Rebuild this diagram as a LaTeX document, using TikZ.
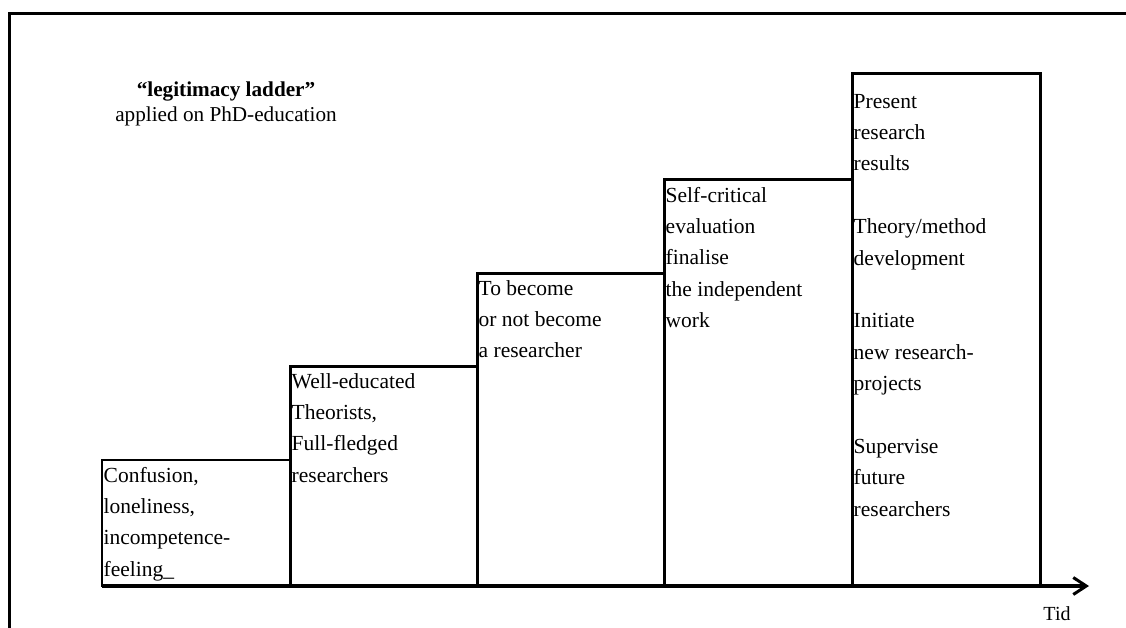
\documentclass[tikz,border=0pt]{standalone}
\usepackage{fontspec}
\setmainfont{Liberation Serif}
\usetikzlibrary{arrows.meta}
\begin{document}
\begin{tikzpicture}[x=1pt,y=-1pt,
  txt/.style={anchor=north west, inner sep=0pt, align=left, font=\fontsize{21.5}{31.4}\selectfont},
  stepbox/.style={draw=black, line width=3pt, inner sep=0pt, outer sep=0pt, anchor=south west, rectangle},
  thinbox/.style={stepbox, line width=1.6pt},
  lbl/.style={inner sep=0pt, anchor=base, font=\fontsize{21.2}{25}\selectfont},
]
\useasboundingbox (0,0) rectangle (1126,628);
% outer frame (cropped on right and bottom)
\coordinate (f0) at (9,628);
\coordinate (f1) at (9,14);
\coordinate (f2) at (1126,14);
\draw[line width=3pt] (f0) -- (f1) -- (f2);

% steps
\node[thinbox, minimum width=188pt, minimum height=126pt] (b1) at (102,586) {};
\node[stepbox, minimum width=187pt, minimum height=220pt] (b2) at (290,586) {};
\node[stepbox, minimum width=187pt, minimum height=313pt] (b3) at (477,586) {};
\node[stepbox, minimum width=188pt, minimum height=406pt] (b4) at (664,586) {};
\node[stepbox, minimum width=188pt, minimum height=512pt] (b5) at (852,586) {};

% time axis
\coordinate (ax0) at (102,586);
\coordinate (ax1) at (1089,586);
\draw[line width=3.5pt, -{Straight Barb[length=13pt,width=17pt,line width=3pt]}] (ax0) -- (ax1);

% texts
\node[txt] (t1) at (103.5,460) {\strut Confusion,\\loneliness,\\incompetence-\\feeling\_};
\node[txt] (t2) at (291.5,366) {\strut Well-educated\\Theorists,\\Full-fledged\\researchers};
\node[txt] (t3) at (478.5,273) {\strut To become\\or not become\\a researcher};
\node[txt] (t4) at (665.5,180) {\strut Self-critical\\evaluation\\finalise\\the independent\\work};
\node[txt] (t5) at (853.5,86) {\strut Present\\research\\results\\[31.4pt]Theory/method\\development\\[31.4pt]Initiate\\new research-\\projects\\[31.4pt]Supervise\\future\\researchers};

\node[lbl, font=\fontsize{21.2}{25}\selectfont\bfseries] (title) at (226,97) {“legitimacy ladder”};
\node[lbl] (sub) at (226,122) {applied on PhD-education};
\node[lbl, font=\fontsize{20}{24}\selectfont] (tid) at (1057,620) {Tid};
\end{tikzpicture}
\end{document}
